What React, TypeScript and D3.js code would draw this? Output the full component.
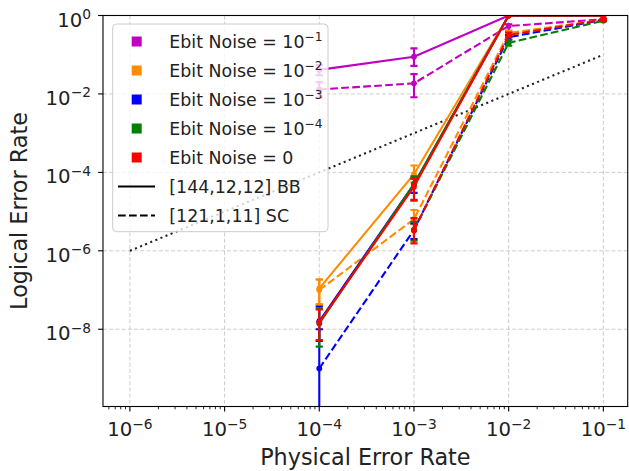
import React from "react";
import * as d3 from "d3";

// physical error rates sampled
const physicalRates = [1e-4, 1e-3, 1e-2, 1e-1];

// ebit noise levels (legend labels: base + exponent)
const noiseBase = ["10", "10", "10", "10", "0"];
const noiseExp = ["\u22121", "\u22122", "\u22123", "\u22124", ""];
const noiseColors = ["#bf00bf", "#ff8c00", "#0000ff", "#008000", "#ff0000"];

// [[144,12,12]] BB code
const bbRates = [
  [0.041, 0.089, 1, 1],
  [1.1e-7, 9e-5, 1, 1],
  [1.6e-8, 5e-5, 1, 1],
  [1.4e-8, 5e-5, 1, 1],
  [1.5e-8, 4.3e-5, 1, 1],
];
const bbLow = [
  [0.03, 0.052, null, null],
  [4.3e-8, 5.5e-5, null, null],
  [5e-9, 3e-5, null, null],
  [3.6e-9, 2e-5, null, null],
  [5.3e-9, 1.9e-5, null, null],
];
const bbHigh = [
  [0.055, 0.145, null, null],
  [1.85e-7, 1.5e-4, null, null],
  [3.8e-8, 7e-5, null, null],
  [3.4e-8, 8e-5, null, null],
  [3.2e-8, 7e-5, null, null],
];

// [[121,1,11]] surface code
const scRates = [
  [0.013, 0.0186, 0.54, 0.8],
  [1.0e-7, 6.4e-6, 0.36, 0.78],
  [1e-9, 3.4e-6, 0.28, 0.77],
  [null, 3.4e-6, 0.2, 0.74],
  [null, 3.3e-6, 0.32, 0.78],
];
const scLow = [
  [0.008, 0.0082, 0.41, 0.75],
  [4.3e-8, 4.8e-6, 0.31, 0.74],
  [1e-13, 2e-6, 0.24, 0.73],
  [null, 1.8e-6, 0.17, 0.7],
  [null, 1.55e-6, 0.28, 0.74],
];
const scHigh = [
  [0.02, 0.032, 0.6, 0.84],
  [1.85e-7, 1.1e-5, 0.41, 0.82],
  [1e-8, 5e-6, 0.32, 0.81],
  [null, 5.5e-6, 0.24, 0.78],
  [null, 6.8e-6, 0.37, 0.82],
];

// reference line p_L = p
const refX = [1e-6, 1e-1];
const refY = [1e-6, 1e-1];

const xTickExp = [-6, -5, -4, -3, -2, -1];
const yTickExp = [0, -2, -4, -6, -8];

const W = 629;
const H = 471;
const L = 103;
const R = 627.7;
const T = 15.5;
const B = 406.5;
const FONT = "DejaVu Sans, sans-serif";
const LW = 2.08;

const sup = (e: number) => (e < 0 ? "\u2212" + Math.abs(e) : String(e));

const App = () => {
  const x = d3.scaleLog().domain([10 ** -6.284, 10 ** -0.743]).range([L, R]);
  const y = d3.scaleLog().domain([10 ** -9.97, 1]).range([B, T]);

  const line = d3
    .line<[number, number | null]>()
    .defined((d) => d[1] != null && d[1] > 0)
    .x((d) => x(d[0]))
    .y((d) => y(d[1] as number));

  const xMinor: number[] = [];
  for (let e = -7; e <= 0; e++) {
    for (let k = 2; k <= 9; k++) {
      const v = k * 10 ** e;
      if (v > x.domain()[0] && v < x.domain()[1]) xMinor.push(v);
    }
  }

  const series = (
    rates: (number | null)[][],
    low: (number | null)[][],
    high: (number | null)[][],
    dash: string | undefined,
    i: number
  ) => {
    const pts = physicalRates.map((p, j) => [p, rates[i][j]] as [number, number | null]);
    const c = noiseColors[i];
    return (
      <g key={(dash ? "sc" : "bb") + i}>
        {physicalRates.map((p, j) => {
          const lo = low[i][j];
          const hi = high[i][j];
          if (lo == null || hi == null) return null;
          const cx = x(p);
          return (
            <g key={j} stroke={c} strokeWidth={LW}>
              <line x1={cx} x2={cx} y1={y(lo)} y2={y(hi)} />
              <line x1={cx - 3.6} x2={cx + 3.6} y1={y(lo)} y2={y(lo)} />
              <line x1={cx - 3.6} x2={cx + 3.6} y1={y(hi)} y2={y(hi)} />
            </g>
          );
        })}
        <path d={line(pts) || ""} fill="none" stroke={c} strokeWidth={LW} strokeDasharray={dash} />
        {pts
          .filter((d) => d[1] != null)
          .map((d, j) => (
            <circle key={j} cx={x(d[0])} cy={y(d[1] as number)} r={2.9} fill={c} />
          ))}
      </g>
    );
  };

  const legendRows = 7;
  const rowY = (k: number) => 41.5 + 29 * k;

  return (
    <svg
      width={W}
      height={H}
      style={{ position: "absolute", left: 0, top: 0, background: "#fff" }}
      fontFamily={FONT}
    >
      <defs>
        <clipPath id="plot">
          <rect x={L} y={T} width={R - L} height={B - T} />
        </clipPath>
      </defs>

      {/* grid */}
      <g stroke="#b0b0b0" strokeOpacity={0.7} strokeWidth={0.9} strokeDasharray="4,2.2">
        {xTickExp.map((e) => (
          <line key={e} x1={x(10 ** e)} x2={x(10 ** e)} y1={T} y2={B} />
        ))}
        {yTickExp.map((e) => (
          <line key={e} x1={L} x2={R} y1={y(10 ** e)} y2={y(10 ** e)} />
        ))}
      </g>

      <g clipPath="url(#plot)">
        <path
          d={line(refX.map((v, j) => [v, refY[j]] as [number, number])) || ""}
          fill="none"
          stroke="#222"
          strokeWidth={LW}
          strokeDasharray="2.08,3.43"
        />
        {noiseColors.map((_, i) => (
          <g key={i}>
            {series(bbRates, bbLow, bbHigh, undefined, i)}
            {series(scRates, scLow, scHigh, "7.7,3.3", i)}
          </g>
        ))}
      </g>

      {/* frame */}
      <rect x={L} y={T} width={R - L} height={B - T} fill="none" stroke="#000" strokeWidth={1.1} />

      {/* x ticks */}
      <g stroke="#000">
        {xTickExp.map((e) => (
          <line key={e} x1={x(10 ** e)} x2={x(10 ** e)} y1={B} y2={B + 4.9} strokeWidth={1.1} />
        ))}
        {xMinor.map((v, k) => (
          <line key={k} x1={x(v)} x2={x(v)} y1={B} y2={B + 2.8} strokeWidth={0.85} />
        ))}
        {yTickExp.map((e) => (
          <line key={e} x1={L - 4.9} x2={L} y1={y(10 ** e)} y2={y(10 ** e)} strokeWidth={1.1} />
        ))}
      </g>
      <g fill="#222" fontSize={19.7}>
        {xTickExp.map((e) => (
          <text key={e} x={x(10 ** e)} y={436} textAnchor="middle">
            10
            <tspan fontSize={13.8} dy={-7.5}>
              {sup(e)}
            </tspan>
          </text>
        ))}
        {yTickExp.map((e) => (
          <text key={e} x={91} y={y(10 ** e) + 11} textAnchor="end">
            10
            <tspan fontSize={13.8} dy={-7.5}>
              {sup(e)}
            </tspan>
          </text>
        ))}
      </g>

      <text x={(L + R) / 2} y={465} textAnchor="middle" fontSize={22.3} fill="#222">
        Physical Error Rate
      </text>
      <text
        transform={`translate(26.5,${(T + B) / 2}) rotate(-90)`}
        textAnchor="middle"
        fontSize={22.3}
        fill="#222"
      >
        Logical Error Rate
      </text>

      {/* legend */}
      <g>
        <rect
          x={112.7}
          y={24}
          width={215.3}
          height={207.7}
          rx={4}
          fill="#fff"
          fillOpacity={0.8}
          stroke="#cccccc"
          strokeWidth={1}
        />
        {d3.range(legendRows).map((k) => {
          const cy = rowY(k);
          let handle;
          let label;
          if (k < noiseColors.length) {
            handle = <rect x={131.7} y={cy - 5} width={10} height={10} fill={noiseColors[k]} />;
            label = (
              <>
                {"Ebit Noise = " + noiseBase[k]}
                {noiseExp[k] && (
                  <tspan fontSize={12.2} dy={-7}>
                    {noiseExp[k]}
                  </tspan>
                )}
              </>
            );
          } else {
            const isSC = k === noiseColors.length + 1;
            handle = (
              <line
                x1={118}
                x2={155}
                y1={cy}
                y2={cy}
                stroke="#000"
                strokeWidth={LW}
                strokeDasharray={isSC ? "7.7,3.3" : undefined}
              />
            );
            label = isSC ? "[121,1,11] SC" : "[144,12,12] BB";
          }
          return (
            <g key={k}>
              {handle}
              <text x={169.3} y={cy + 6.3} fontSize={17.4} fill="#222">
                {label}
              </text>
            </g>
          );
        })}
      </g>
    </svg>
  );
};

export default App;
